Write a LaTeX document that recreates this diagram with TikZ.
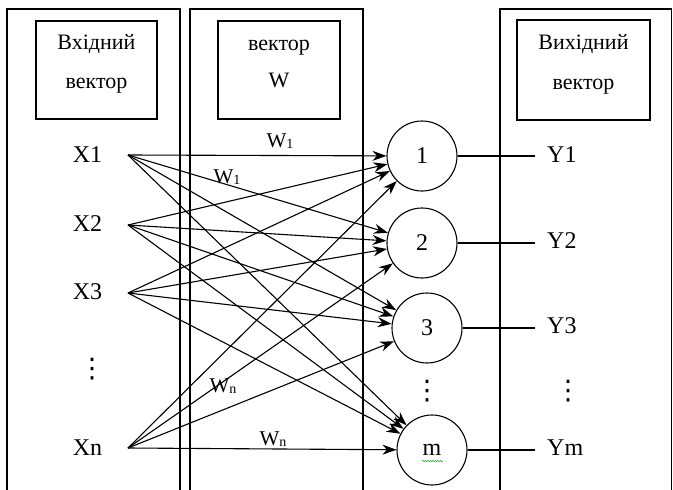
\documentclass[tikz,border=0pt]{standalone}
\usepackage{fontspec}
\setmainfont{Liberation Serif}
\newfontfamily\dotfont{DejaVu Sans}
\usetikzlibrary{arrows.meta,decorations.pathmorphing}
\begin{document}
\begin{tikzpicture}[x=1pt,y=-1pt,
  frame/.style={line width=1.1pt},
  inbox/.style={draw,line width=1.1pt,rectangle,inner sep=0pt},
  boxtext/.style={anchor=base,inner sep=0pt,font=\fontsize{22}{24}\selectfont},
  lab/.style={anchor=base,inner sep=0pt,font=\fontsize{24}{26}\selectfont},
  dotcol/.style={inner sep=0pt,font=\dotfont\fontsize{27}{29}\selectfont},
  wlab/.style={anchor=base,inner sep=0pt,font=\fontsize{21}{24}\selectfont},
  neuron/.style={draw,circle,line width=1.1pt,minimum size=70pt,inner sep=0pt,font=\fontsize{24}{26}\selectfont},
  conn/.style={line width=1.1pt,-{Stealth[length=14pt,width=10pt]}},
  outl/.style={line width=1.1pt}]
\useasboundingbox (0,0) rectangle (673,490);
% panels
\draw[frame] (7,491) -- (7,9) -- (180,9) -- (180,491);
\draw[frame] (190,491) -- (190,9) -- (363,9) -- (363,491);
\draw[frame] (500,491) -- (500,9) -- (671.5,9) -- (671.5,491);
% header boxes
\node[inbox,minimum width=121pt,minimum height=98pt] (bx) at (96.5,70) {};
\node[boxtext] (bx1) at (96.5,49) {Вхідний};
\node[boxtext] (bx2) at (96.5,88) {вектор};
\node[inbox,minimum width=122pt,minimum height=98pt] (bw) at (279,70) {};
\node[boxtext] (bw1) at (279,50) {вектор};
\node[boxtext] (bw2) at (279,87) {W};
\node[inbox,minimum width=133pt,minimum height=100pt] (by) at (583.5,70) {};
\node[boxtext] (by1) at (583.5,49) {Вихідний};
\node[boxtext] (by2) at (583.5,89) {вектор};
% inputs
\node[lab] (lx1) at (87.5,162) {X1};
\node[lab] (lx2) at (87.5,231) {X2};
\node[lab] (lx3) at (87.5,299) {X3};
\node[dotcol] (lxd) at (92,369) {⋮};
\node[lab] (lxn) at (87.5,455) {Xn};
\coordinate (x1) at (128,155);
\coordinate (x2) at (128,225);
\coordinate (x3) at (128,293);
\coordinate (xn) at (128,448);
% neurons
\node[neuron] (n1) at (422,156) {1};
\node[neuron] (n2) at (422,243) {2};
\node[neuron] (n3) at (427,328) {3};
\node[dotcol] (nd) at (427,391) {⋮};
\node[neuron] (nm) at (432,450) {m};
\draw[green!60!black,line width=0.5pt,decorate,decoration={snake,amplitude=0.6pt,segment length=2.5pt}] (422,461) -- (443,461);
% connections
\foreach \s in {x1,x2,x3,xn}{
  \foreach \t in {n1,n2,n3,nm}{
    \draw[conn] (\s) -- (\t);
  }
}
% weights
\node[wlab] (w1a) at (280,147) {W\raisebox{-1pt}{\fontsize{14}{14}\selectfont 1}};
\node[wlab] (w1b) at (227,183) {W\raisebox{-1pt}{\fontsize{14}{14}\selectfont 1}};
\node[wlab] (wna) at (223,392) {W\raisebox{-1pt}{\fontsize{14}{14}\selectfont n}};
\node[wlab] (wnb) at (273,445) {W\raisebox{-1pt}{\fontsize{14}{14}\selectfont n}};
% outputs
\coordinate (o1) at (535,156);
\coordinate (o2) at (535,243);
\coordinate (o3) at (535,328);
\coordinate (om) at (535,450);
\draw[outl] (n1) -- (o1);
\draw[outl] (n2) -- (o2);
\draw[outl] (n3) -- (o3);
\draw[outl] (nm) -- (om);
\node[lab,anchor=base west] (y1) at (547,162) {Y1};
\node[lab,anchor=base west] (y2) at (547,248) {Y2};
\node[lab,anchor=base west] (y3) at (547,333) {Y3};
\node[dotcol] (yd) at (568,391) {⋮};
\node[lab,anchor=base west] (ym) at (547,455) {Ym};
\end{tikzpicture}
\end{document}
